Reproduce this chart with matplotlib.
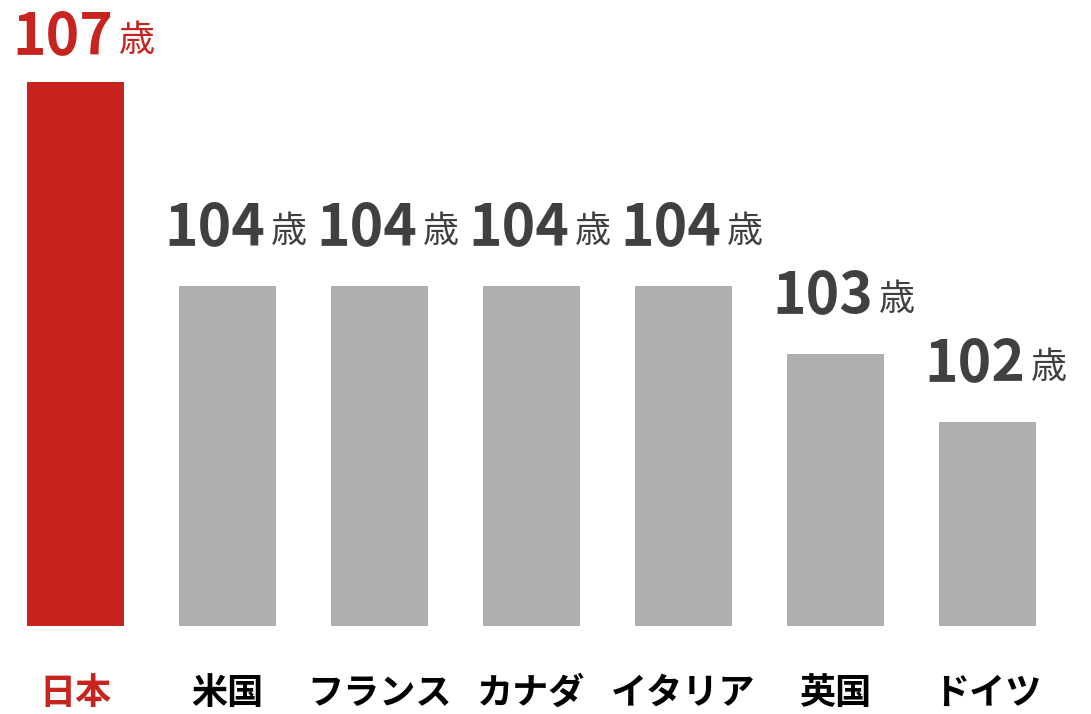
import matplotlib
matplotlib.use("Agg")
import matplotlib.pyplot as plt

plt.rcParams['font.family'] = ['Noto Sans CJK JP', 'DejaVu Sans']

countries = ['日本', '米国', 'フランス', 'カナダ', 'イタリア', '英国', 'ドイツ']
ages = [107, 104, 104, 104, 104, 103, 102]
unit = '歳'

RED = '#c8241f'
GRAY = '#afafaf'
NUM_GRAY = '#404040'

fig = plt.figure(figsize=(10.91, 7.14), dpi=100)
ax = fig.add_axes([0, 88 / 714, 1, 626 / 714])

x = list(range(len(countries)))
colors = [RED if i == 0 else GRAY for i in x]
ax.bar(x, ages, width=0.64, color=colors, bottom=0)

ax.set_xlim(-0.497, -0.497 + 1091 / 152)
ax.set_ylim(99, 99 + 626 / 68)

for i, (c, v) in enumerate(zip(countries, ages)):
    col = RED if i == 0 else NUM_GRAY
    gap = 28 if i == 0 else 41
    ax.annotate(str(v), (i, v), xytext=(38, gap), textcoords='offset pixels',
                ha='right', va='baseline', fontsize=41, fontweight='bold',
                color=col)
    ax.annotate(unit, (i, v), xytext=(43, gap + 3), textcoords='offset pixels',
                ha='left', va='baseline', fontsize=26, fontweight='normal',
                color=col)

ax.set_xticks(x)
ax.set_xticklabels(countries, fontsize=26, fontweight='bold')
for lbl, i in zip(ax.get_xticklabels(), x):
    lbl.set_color(RED if i == 0 else 'black')
ax.tick_params(axis='x', length=0, pad=35)
ax.set_yticks([])
for s in ax.spines.values():
    s.set_visible(False)

fig.savefig('out.png', dpi=100)
